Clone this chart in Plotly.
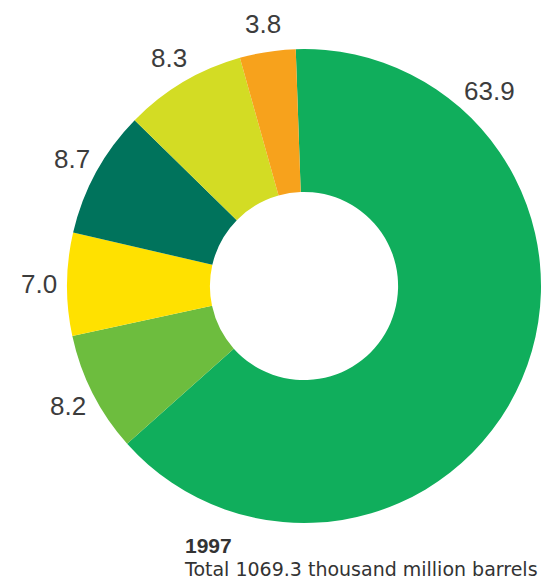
import math
import plotly.graph_objects as go

labels = ["A", "B", "C", "D", "E", "F"]
values = [63.9, 8.2, 7.0, 8.7, 8.3, 3.8]
value_text = ["63.9", "8.2", "7.0", "8.7", "8.3", "3.8"]
colors = ["#10ae5c", "#6dbd3e", "#ffe100", "#00735c", "#d3dc24", "#f7a21c"]
title_year = "1997"
title_total = "Total 1069.3 thousand million barrels"

W, H = 550, 581
cx, cy = 296, 278          # pixel centre (from top)
R = 237                    # outer radius px
rot = -2                   # start angle of first slice (deg, clockwise from 12 o'clock)
label_r = 265

fig = go.Figure(go.Pie(
    labels=labels, values=values, sort=False, direction="clockwise", rotation=rot,
    hole=0.397, marker=dict(colors=colors, line=dict(width=0)),
    textinfo="none", hoverinfo="label+value", showlegend=False,
    domain=dict(x=[(cx - R) / W, (cx + R) / W], y=[(H - cy - R) / H, (H - cy + R) / H]),
))

total = sum(values)
cum = 0.0
annotations = []
for i, (v, t) in enumerate(zip(values, value_text)):
    mid = rot + (cum + v / 2) / total * 360
    cum += v
    r = label_r
    if i == 0:
        mid, r = 43.6, 269
    ang = math.radians(mid)
    px = cx + r * math.sin(ang)
    py = (H - cy) + r * math.cos(ang)
    annotations.append(dict(x=px / W, y=py / H, xref="paper", yref="paper", text=t,
                            showarrow=False, xanchor="center", yanchor="middle",
                            font=dict(family="Liberation Sans, Arial", size=26, color="#3c3c3c")))

annotations.append(dict(x=175 / W, y=(H - 537) / H, xref="paper", yref="paper",
                        text="<b>" + title_year + "</b>", showarrow=False,
                        xanchor="left", yanchor="middle",
                        font=dict(family="Liberation Sans, Arial", size=21, color="#333333")))
annotations.append(dict(x=174 / W, y=(H - 561) / H, xref="paper", yref="paper",
                        text=title_total, showarrow=False,
                        xanchor="left", yanchor="middle",
                        font=dict(family="DejaVu Sans", size=19, color="#333333")))

fig.update_layout(width=W, height=H, margin=dict(l=0, r=0, t=0, b=0),
                  paper_bgcolor="white", plot_bgcolor="white", annotations=annotations)
fig.write_html("out.html")
